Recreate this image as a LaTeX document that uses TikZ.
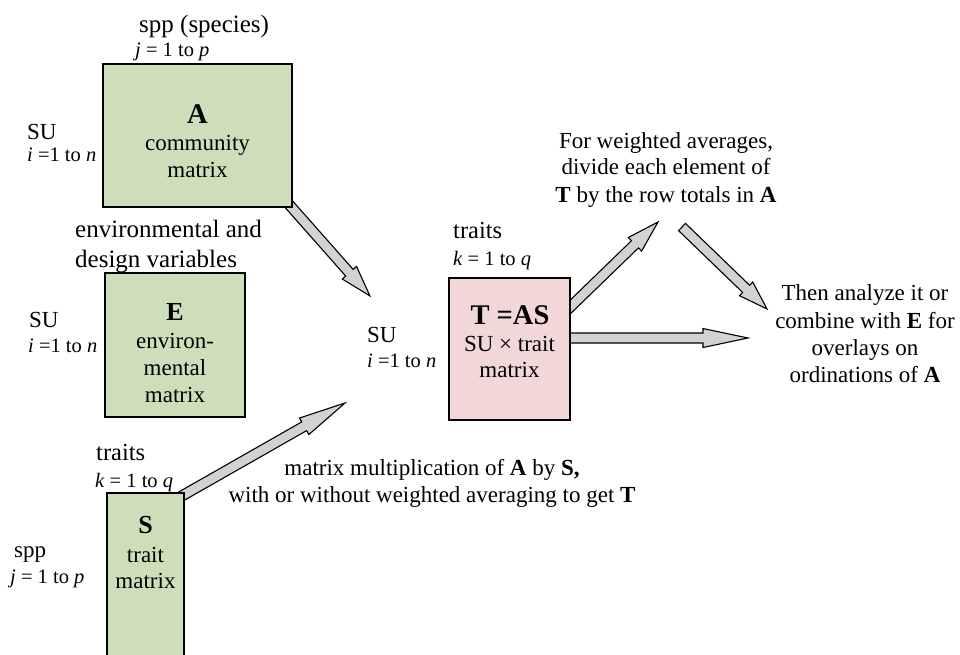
\documentclass[tikz,border=0pt]{standalone}
\usepackage{fontspec}
\setmainfont{Liberation Serif}
\usetikzlibrary{calc}
\definecolor{boxgreen}{RGB}{205,222,187}
\definecolor{boxpink}{RGB}{242,215,216}
\definecolor{arrgray}{RGB}{210,210,210}
\newcommand\fmain{\fontsize{23}{27}\selectfont}
\newcommand\flab{\fontsize{24.5}{29}\selectfont}
\newcommand\fbig{\fontsize{25}{29}\selectfont}
\newcommand\fsm{\fontsize{20.5}{24}\selectfont}
\newcommand\ftitle{\fontsize{28.5}{32}\selectfont\bfseries}
\newcommand\ftitleb{\fontsize{26}{30}\selectfont\bfseries}
\newcommand\blockarrow[3]{%
  \path (#1); \pgfgetlastxy{\baX}{\baY}%
  \path (#2); \pgfgetlastxy{\bbX}{\bbY}%
  \pgfmathsetmacro\baAng{atan2(\bbY-\baY,\bbX-\baX)}%
  \pgfmathsetmacro\baLen{veclen(\bbX-\baX,\bbY-\baY)}%
  \pgfmathsetmacro\baNeck{\baLen-#3}%
  \draw[blockarr,shift={(\baX,\baY)},rotate=\baAng]
    (0,5) -- (\baNeck,5) -- (\baNeck,9.5) -- (\baLen,0) -- (\baNeck,-9.5)
    -- (\baNeck,-5) -- (0,-5) -- cycle;%
}
\tikzset{
  blockarr/.style={draw=black, fill=arrgray, line width=1.1pt, line join=miter},
  gbox/.style={draw=black, fill=boxgreen, line width=1.3pt, inner sep=0pt},
  pbox/.style={draw=black, fill=boxpink, line width=1.3pt, inner sep=0pt},
  lt/.style={anchor=base west, inner sep=0pt},
  ct/.style={anchor=base, inner sep=0pt},
}
\begin{document}
\begin{tikzpicture}[x=1pt,y=1pt]
\useasboundingbox (0,0) rectangle (960,-655);
\clip (0,0) rectangle (960,-655);

% coordinates for connector ends
\coordinate (a1s) at (286,-201);
\coordinate (a1e) at (370,-296);
\coordinate (a2s) at (180,-497);
\coordinate (a2e) at (345,-403);
\coordinate (a3s) at (564,-313);
\coordinate (a3e) at (658,-222);
\coordinate (a4s) at (565,-338);
\coordinate (a4e) at (748,-338);
\coordinate (a5s) at (682,-227);
\coordinate (a5e) at (767,-309);

% block arrows
\blockarrow{a1s}{a1e}{31}
\blockarrow{a2s}{a2e}{47}
\blockarrow{a3s}{a3e}{32}
\blockarrow{a4s}{a4e}{45}
\blockarrow{a5s}{a5e}{29}

% boxes
\node[gbox, minimum width=189pt, minimum height=143pt] (A) at (197.5,-135.5) {};
\node[gbox, minimum width=140pt, minimum height=144pt] (E) at (175,-345) {};
\node[gbox, minimum width=77pt, minimum height=187pt] (S) at (145.5,-586.5) {};
\node[pbox, minimum width=121pt, minimum height=142pt] (T) at (509.5,-349) {};

% A
\node[lt, font=\fbig] (Aspp) at (139,-33) {spp (species)};
\node[lt, font=\fsm] (Aj) at (135,-57) {\textit{j} = 1 to \textit{p}};
\node[lt, font=\fmain] (Asu) at (27,-140) {SU};
\node[lt, font=\fsm] (Ai) at (27,-162) {\textit{i} =1 to \textit{n}};
\node[ct, font=\ftitle] (At1) at (197.5,-124) {A};
\node[ct, font=\fmain] (At2) at (197.5,-151) {community};
\node[ct, font=\fmain] (At3) at (197.5,-178) {matrix};

% E
\node[lt, font=\fbig] (Ev1) at (75,-237) {environmental and};
\node[lt, font=\fbig] (Ev2) at (75,-267) {design variables};
\node[lt, font=\fmain] (Esu) at (29,-327) {SU};
\node[lt, font=\fsm] (Ei) at (28,-352) {\textit{i} =1 to \textit{n}};
\node[ct, font=\ftitleb] (Et1) at (175,-320) {E};
\node[ct, font=\fmain] (Et2) at (175,-348) {environ-};
\node[ct, font=\fmain] (Et3) at (175,-375) {mental};
\node[ct, font=\fmain] (Et4) at (175,-402) {matrix};

% S
\node[lt, font=\flab] (Str) at (96,-460) {traits};
\node[lt, font=\fsm] (Sk) at (95,-487) {\textit{k} = 1 to \textit{q}};
\node[lt, font=\fmain] (Sspp) at (14,-557) {spp};
\node[lt, font=\fsm] (Sj) at (10,-583) {\textit{j} = 1 to \textit{p}};
\node[ct, font=\ftitleb] (St1) at (145.5,-533) {S};
\node[ct, font=\fmain] (St2) at (145.5,-562) {trait};
\node[ct, font=\fmain] (St3) at (145.5,-588) {matrix};

% centre
\node[lt, font=\fmain] (Csu) at (367,-342) {SU};
\node[lt, font=\fsm] (Ci) at (367,-367) {\textit{i} =1 to \textit{n}};

% T
\node[lt, font=\flab] (Ttr) at (453,-238) {traits};
\node[lt, font=\fsm] (Tk) at (453,-265) {\textit{k} = 1 to \textit{q}};
\node[ct, font=\ftitle] (Tt1) at (510,-324) {T =AS};
\node[ct, font=\fmain] (Tt2) at (509.5,-351) {SU × trait};
\node[ct, font=\fmain] (Tt3) at (509.5,-377) {matrix};

% top right note
\node[ct, font=\fmain] (W1) at (666,-149) {For weighted averages,};
\node[ct, font=\fmain] (W2) at (666,-175) {divide each element of};
\node[ct, font=\fmain] (W3) at (666,-202) {\textbf{T} by the row totals in \textbf{A}};

% right note
\node[ct, font=\fmain] (R1) at (865,-300) {Then analyze it or};
\node[ct, font=\fmain] (R2) at (865,-328) {combine with \textbf{E} for};
\node[ct, font=\fmain] (R3) at (865,-355) {overlays on};
\node[ct, font=\fmain] (R4) at (865,-382) {ordinations of \textbf{A}};

% bottom note
\node[ct, font=\fmain] (M1) at (432,-475) {matrix multiplication of \textbf{A} by \textbf{S,}};
\node[ct, font=\fmain] (M2) at (432,-502) {with or without weighted averaging to get \textbf{T}};
\end{tikzpicture}
\end{document}
